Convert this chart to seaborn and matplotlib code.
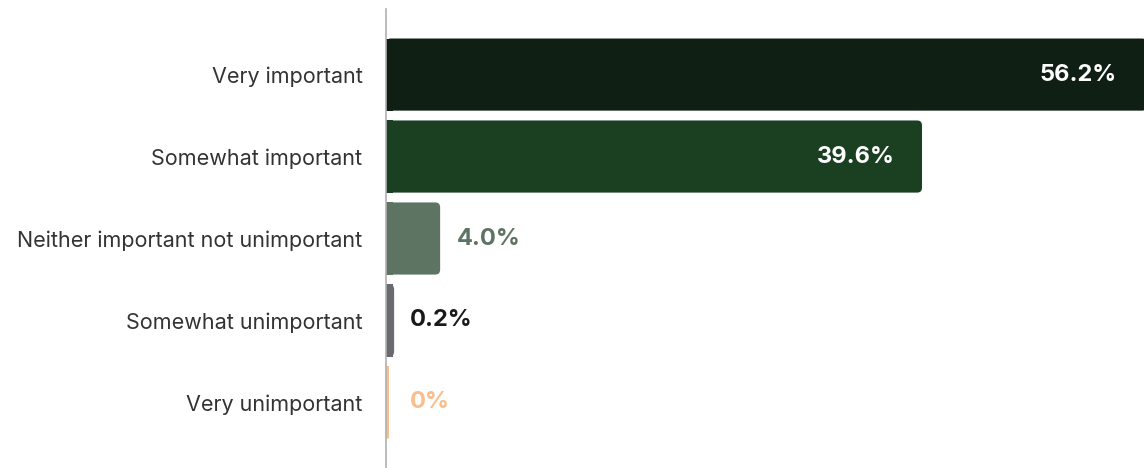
import matplotlib
matplotlib.use("Agg")
import matplotlib.pyplot as plt
from matplotlib.patches import FancyBboxPatch
import seaborn as sns
import pandas as pd

categories = [
    "Very important",
    "Somewhat important",
    "Neither important not unimportant",
    "Somewhat unimportant",
    "Very unimportant",
]
values = [56.2, 39.6, 4.0, 0.2, 0.0]
value_labels = ["56.2%", "39.6%", "4.0%", "0.2%", "0%"]
bar_colors = ["#0f1f13", "#1b3f21", "#5e7463", "#696a6f", "#fbbd8a"]
label_colors = ["white", "white", "#5e7463", "#1a1a1a", "#fbbd8a"]
label_inside = [True, True, False, False, False]

sns.set_theme(style="white")
plt.rcParams["font.family"] = ["Inter", "DejaVu Sans"]

df = pd.DataFrame({"category": categories, "value": values})

fig = plt.figure(figsize=(11.44, 4.68), dpi=100)
ax = fig.add_axes([386 / 1144, 0.0, 1 - 386 / 1144, (468 - 9) / 468])

sns.barplot(data=df, x="value", y="category", hue="category",
            palette=bar_colors, orient="h", width=0.88, legend=False,
            saturation=1, ax=ax)

x_max = 56.0
ax.set_xlim(0, x_max)
ax.set_ylim(4.8, -0.8)

# replace the plain bars with ones that have rounded right ends
min_width = {3: 0.6, 4: 0.22}
for i, patch in enumerate(list(ax.patches)):
    x0, y0 = patch.get_x(), patch.get_y()
    w, h = patch.get_width(), patch.get_height()
    w = max(w, min_width.get(i, 0))
    color = patch.get_facecolor()
    patch.remove()
    rounded = FancyBboxPatch((x0, y0), w, h,
                             boxstyle="round,pad=0,rounding_size=0.35",
                             mutation_aspect=h / 0.35 * 0.07,
                             facecolor=color, edgecolor="none", zorder=2)
    ax.add_patch(rounded)
    # square off the left end
    ax.add_patch(plt.Rectangle((x0, y0), min(w, 0.5), h, facecolor=color,
                               edgecolor="none", zorder=2))

for i, (v, lab) in enumerate(zip(values, value_labels)):
    if label_inside[i]:
        ax.text(min(v, x_max) - 2.0, i, lab, ha="right", va="center",
                color=label_colors[i], fontsize=17, fontweight="bold")
    else:
        ax.text(max(v, 0.6) + 1.2, i, lab, ha="left", va="center",
                color=label_colors[i], fontsize=17, fontweight="bold")

ax.set_xlabel("")
ax.set_ylabel("")
ax.set_xticks([])
ax.tick_params(axis="y", length=0, pad=17, labelsize=15.5, labelcolor="#333333")
for side in ["top", "right", "bottom"]:
    ax.spines[side].set_visible(False)
ax.spines["left"].set_color("#b0b0b0")
ax.spines["left"].set_linewidth(1.2)
ax.spines["left"].set_zorder(3)

fig.savefig("out.png", dpi=100)
